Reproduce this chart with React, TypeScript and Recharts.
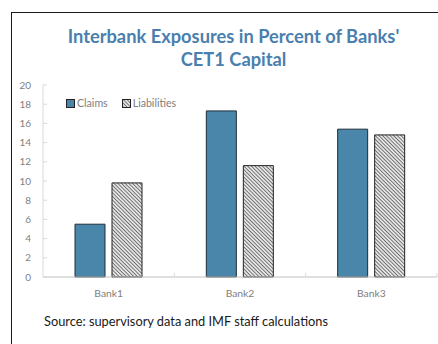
import React from "react";
import { BarChart, Bar, XAxis, YAxis, Legend } from "recharts";

const categories = ["Bank1", "Bank2", "Bank3"];
const claims = [5.5, 17.3, 15.4];
const liabilities = [9.8, 11.6, 14.8];
const yTicks = [0, 2, 4, 6, 8, 10, 12, 14, 16, 18, 20];
const title = ["Interbank Exposures in Percent of Banks'", "CET1 Capital"];
const source = "Source: supervisory data and IMF staff calculations";

const data = categories.map((c, i) => ({ name: c, Claims: claims[i], Liabilities: liabilities[i] }));

const FONT = "Lato, 'Open Sans', sans-serif";
const GRID = "#d9d9d9";
const AXIS_TXT = "#808080";

const YTick = (props: any) => {
  const { x, y, payload } = props;
  return (
    <g>
      <text x={x} y={y} dy="0.35em" textAnchor="end" fontSize={10} fontFamily={FONT} fill={AXIS_TXT}>
        {payload.value}
      </text>
      <line x1={x + 12} x2={x + 16} y1={y} y2={y} stroke={GRID} strokeWidth={1} />
    </g>
  );
};

const XTick = (props: any) => {
  const { x, y, payload } = props;
  const off = payload && typeof payload.offset === "number" ? payload.offset : 0;
  const axisY = y - 13;
  return (
    <g>
      <text x={x} y={y} dy="0.71em" textAnchor="middle" fontSize={10.3} fontFamily={FONT} fill={AXIS_TXT}>
        {payload.value}
      </text>
      {off > 0 ? <line x1={x + off} x2={x + off} y1={axisY} y2={axisY - 4} stroke={GRID} /> : null}
    </g>
  );
};

const LegendContent = (props: any) => {
  const items = props.payload || [];
  return (
    <div style={{ display: "flex", alignItems: "center", fontFamily: FONT, fontSize: 10.6, color: AXIS_TXT, whiteSpace: "nowrap" }}>
      {items.map((it: any, i: number) => (
        <div key={i} style={{ display: "flex", alignItems: "center", marginRight: 14 }}>
          <svg width={9} height={9} style={{ marginRight: 2 }}>
            <rect x={0.5} y={0.5} width={8} height={8} fill={it.color} stroke="#222" strokeWidth={1} />
          </svg>
          <span>{it.value}</span>
        </div>
      ))}
    </div>
  );
};

export default function App() {
  return (
    <div style={{ position: "absolute", left: 0, top: 0, width: 438, height: 344, overflow: "hidden", background: "#fff" }}>
      <div style={{ position: "absolute", left: 11, top: 12, width: 500, height: 400, border: "1.5px solid #1a1a1a", boxSizing: "border-box" }} />
      <div
        style={{
          position: "absolute",
          left: 30,
          width: 407,
          top: 25,
          textAlign: "center",
          fontFamily: FONT,
          fontWeight: 700,
          fontSize: 18.3,
          lineHeight: "23px",
          color: "#4a7fae",
        }}
      >
        <div>{title[0]}</div>
        <div>{title[1]}</div>
      </div>
      <div style={{ position: "absolute", left: 44, top: 313, fontFamily: FONT, fontSize: 12.8, color: "#1a1a1a", whiteSpace: "nowrap" }}>
        {source}
      </div>
      <div style={{ position: "absolute", left: 0, top: 0 }}>
        <BarChart width={438} height={344} data={data} margin={{ top: 85, right: 1, bottom: 47, left: 10 }} barSize={30} barGap={7}>
          <defs>
            <pattern id="hatch" patternUnits="userSpaceOnUse" width={2.6} height={2.6} patternTransform="rotate(-45)">
              <rect width={2.6} height={2.6} fill="#e4e4e4" />
              <line x1={0} y1={0} x2={0} y2={2.6} stroke="#333" strokeWidth={1.2} />
            </pattern>
          </defs>
          <XAxis
            dataKey="name"
            height={20}
            tickSize={0}
            tickMargin={13}
            tick={<XTick />}
            axisLine={{ stroke: "#bfbfbf" }}
            interval={0}
          />
          <XAxis xAxisId="top" dataKey="name" orientation="top" height={0} tick={false} tickLine={false} axisLine={{ stroke: GRID }} />
          <YAxis
            domain={[0, 20]}
            ticks={yTicks}
            width={33}
            tickSize={0}
            tickMargin={12}
            tick={<YTick />}
            axisLine={{ stroke: GRID }}
            interval={0}
          />
          <YAxis yAxisId="r" orientation="right" domain={[0, 20]} width={0} tick={false} tickLine={false} axisLine={{ stroke: GRID }} />
          <Legend
            layout="vertical"
            align="center"
            verticalAlign="middle"
            content={<LegendContent />}
            wrapperStyle={{ left: 66, top: 97, width: 200, height: 14 }}
          />
          <Bar dataKey="Claims" fill="#4a86aa" stroke="#1c2e3a" strokeWidth={1} isAnimationActive={false} />
          <Bar dataKey="Liabilities" fill="url(#hatch)" stroke="#222" strokeWidth={1} isAnimationActive={false} />
        </BarChart>
      </div>
    </div>
  );
}
